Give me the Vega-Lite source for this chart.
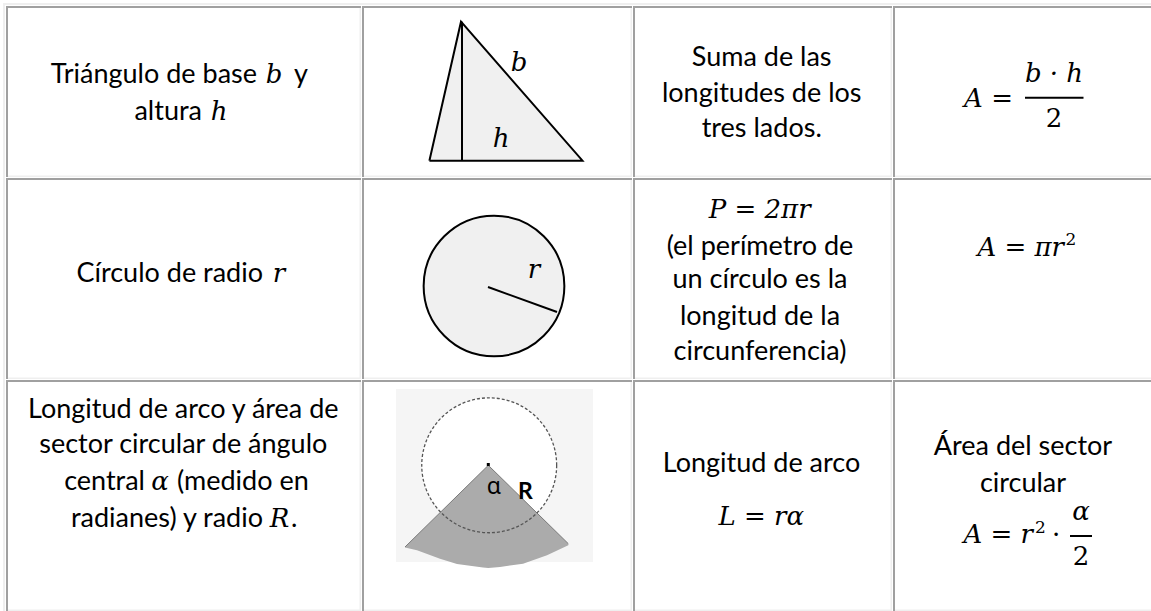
{
"$schema": "https://vega.github.io/schema/vega-lite/v6.json",
"width": 1151, "height": 611, "padding": 0, "autosize": {"type": "none"},
"background": "white",
"config": {"view": {"stroke": null}},
"datasets": {
"frame": [{"x": 3, "x2": 1165, "y": 3, "y2": 625}],
"cells": [
{"x": 6, "x2": 361, "y": 6, "y2": 177}, {"x": 362, "x2": 632, "y": 6, "y2": 177}, {"x": 633, "x2": 892, "y": 6, "y2": 177}, {"x": 893, "x2": 1165, "y": 6, "y2": 177},
{"x": 6, "x2": 361, "y": 178, "y2": 379}, {"x": 362, "x2": 632, "y": 178, "y2": 379}, {"x": 633, "x2": 892, "y": 178, "y2": 379}, {"x": 893, "x2": 1165, "y": 178, "y2": 379},
{"x": 6, "x2": 361, "y": 380, "y2": 611}, {"x": 362, "x2": 632, "y": 380, "y2": 611}, {"x": 633, "x2": 892, "y": 380, "y2": 611}, {"x": 893, "x2": 1165, "y": 380, "y2": 611}
],
"tri": [{"x": 429.4, "y": 160.7, "y2": 160.7}, {"x": 461, "y": 21.7, "y2": 160.7}, {"x": 582.5, "y": 160.7, "y2": 160.7}],
"triLine": [{"x": 429.4, "y": 160.7, "o": 1}, {"x": 461, "y": 21.7, "o": 2}, {"x": 582.5, "y": 160.7, "o": 3}, {"x": 429.4, "y": 160.7, "o": 4}],
"segs": [
{"x": 462, "y": 21.7, "x2": 462, "y2": 160.7},
{"x": 488, "y": 287, "x2": 557, "y2": 312},
{"x": 1025, "y": 97.7, "x2": 1083.5, "y2": 97.7},
{"x": 1070, "y": 536, "x2": 1092, "y2": 536}
],
"circle": [{"x": 494, "y": 286}],
"sectorBg": [{"x": 396, "x2": 593, "y": 389, "y2": 562}],
"sector": [
{"x": 405, "y": 547, "y2": 547.5}, {"x": 417, "y": 535.2, "y2": 550.3}, {"x": 440, "y": 512.7, "y2": 558.7}, {"x": 457, "y": 496, "y2": 564},
{"x": 483, "y": 470.5, "y2": 567.5}, {"x": 488.3, "y": 465.3, "y2": 568}, {"x": 500, "y": 476.8, "y2": 567}, {"x": 523, "y": 499.3, "y2": 563.7},
{"x": 547, "y": 522.8, "y2": 555.3}, {"x": 568.3, "y": 543.7, "y2": 545.3}
],
"sectorEdge": [{"x": 405, "y": 547, "o": 1}, {"x": 488.3, "y": 465.3, "o": 2}, {"x": 568.3, "y": 543.7, "o": 3}],
"dashCircle": [{"x": 489.2, "y": 465.3}],
"apex": [{"x": 488.3, "y": 464.5}],
"plainC": [
{"t": "Suma de las", "x": 761.7, "y": 66}, {"t": "longitudes de los", "x": 761.7, "y": 101.7}, {"t": "tres lados.", "x": 761.7, "y": 136.7},
{"t": "(el perímetro de", "x": 760, "y": 255}, {"t": "un círculo es la", "x": 760, "y": 288}, {"t": "longitud de la", "x": 760, "y": 325}, {"t": "circunferencia)", "x": 760, "y": 360},
{"t": "Longitud de arco", "x": 761.5, "y": 471.7},
{"t": "Área del sector", "x": 1023, "y": 455}, {"t": "circular", "x": 1023, "y": 491.7},
{"t": "Longitud de arco y área de", "x": 183.3, "y": 418}, {"t": "sector circular de ángulo", "x": 183.3, "y": 453}
],
"plainR": [
{"t": "Triángulo de base", "x": 257, "y": 83}, {"t": "altura", "x": 202, "y": 120}, {"t": "Círculo de radio", "x": 263, "y": 282},
{"t": "central", "x": 145, "y": 490}, {"t": "radianes) y radio", "x": 263, "y": 526.7}
],
"plainL": [
{"t": "y", "x": 294, "y": 83}, {"t": "(medido en", "x": 177, "y": 490}, {"t": ".", "x": 291, "y": 526.7}
],
"mathI": [
{"t": "b", "x": 274, "y": 83}, {"t": "h", "x": 219, "y": 120}, {"t": "r", "x": 279, "y": 282}, {"t": "α", "x": 160, "y": 490}, {"t": "R", "x": 279.5, "y": 526.7},
{"t": "b", "x": 519, "y": 71}, {"t": "h", "x": 501, "y": 146.7}, {"t": "r", "x": 534, "y": 278},
{"t": "P = 2πr", "x": 759.7, "y": 218}, {"t": "L = rα", "x": 761.2, "y": 525},
{"t": "A =", "x": 988.5, "y": 106.7}, {"t": "b · h", "x": 1054, "y": 81.7},
{"t": "α", "x": 1081, "y": 520}
],
"mathIR": [
{"t": "A = πr", "x": 1064, "y": 256},
{"t": "A = r", "x": 1033, "y": 542.7}
],
"mathU": [{"t": "2", "x": 1054, "y": 127.3}, {"t": "2", "x": 1081, "y": 565}, {"t": "·", "x": 1056, "y": 542.7}],
"sup": [{"t": "2", "x": 1071, "y": 245}, {"t": "2", "x": 1040.5, "y": 533}],
"alpha": [{"t": "α", "x": 494, "y": 494}],
"boldR": [{"t": "R", "x": 525.5, "y": 498.7}]
},
"layer": [
{"data": {"name": "frame"}, "mark": {"type": "rect", "fill": "#efefef"},
 "encoding": {"x": {"field": "x", "type": "quantitative", "scale": {"domain": [0, 1151], "nice": false, "zero": false}, "axis": null}, "x2": {"field": "x2"}, "y": {"field": "y", "type": "quantitative", "scale": {"domain": [0, 611], "nice": false, "zero": false, "reverse": true}, "axis": null}, "y2": {"field": "y2"}}},
{"data": {"name": "frame"}, "mark": {"type": "rect", "fill": "#ffffff", "xOffset": 2, "yOffset": 2},
 "encoding": {"x": {"field": "x", "type": "quantitative", "axis": null}, "x2": {"field": "x2"}, "y": {"field": "y", "type": "quantitative", "axis": null}, "y2": {"field": "y2"}}},
{"data": {"name": "cells"}, "mark": {"type": "rect", "fill": "#a0a0a0"},
 "encoding": {"x": {"field": "x", "type": "quantitative", "axis": null}, "x2": {"field": "x2"}, "y": {"field": "y", "type": "quantitative", "axis": null}, "y2": {"field": "y2"}}},
{"data": {"name": "cells"}, "mark": {"type": "rect", "fill": "#efefef", "xOffset": 2, "yOffset": 2},
 "encoding": {"x": {"field": "x", "type": "quantitative", "axis": null}, "x2": {"field": "x2"}, "y": {"field": "y", "type": "quantitative", "axis": null}, "y2": {"field": "y2"}}},
{"data": {"name": "cells"}, "mark": {"type": "rect", "fill": "#ffffff", "xOffset": 2, "yOffset": 2, "x2Offset": -1.5, "y2Offset": -1.5},
 "encoding": {"x": {"field": "x", "type": "quantitative", "axis": null}, "x2": {"field": "x2"}, "y": {"field": "y", "type": "quantitative", "axis": null}, "y2": {"field": "y2"}}},
{"data": {"name": "tri"}, "mark": {"type": "area", "fill": "#f0f0f0", "interpolate": "linear"},
 "encoding": {"x": {"field": "x", "type": "quantitative", "axis": null}, "y": {"field": "y", "type": "quantitative", "axis": null}, "y2": {"field": "y2"}}},
{"data": {"name": "triLine"}, "mark": {"type": "line", "color": "#000000", "strokeWidth": 2, "strokeJoin": "miter"},
 "encoding": {"x": {"field": "x", "type": "quantitative", "axis": null}, "y": {"field": "y", "type": "quantitative", "axis": null}, "order": {"field": "o", "type": "quantitative"}}},
{"data": {"name": "circle"}, "mark": {"type": "point", "shape": "circle", "size": 19800, "filled": true, "fill": "#f0f0f0", "stroke": "#000000", "strokeWidth": 2, "opacity": 1},
 "encoding": {"x": {"field": "x", "type": "quantitative", "axis": null}, "y": {"field": "y", "type": "quantitative", "axis": null}}},
{"data": {"name": "sectorBg"}, "mark": {"type": "rect", "fill": "#f5f5f5"},
 "encoding": {"x": {"field": "x", "type": "quantitative", "axis": null}, "x2": {"field": "x2"}, "y": {"field": "y", "type": "quantitative", "axis": null}, "y2": {"field": "y2"}}},
{"data": {"name": "dashCircle"}, "mark": {"type": "point", "shape": "circle", "size": 18200, "filled": true, "fill": "#ffffff", "opacity": 1, "strokeOpacity": 0},
 "encoding": {"x": {"field": "x", "type": "quantitative", "axis": null}, "y": {"field": "y", "type": "quantitative", "axis": null}}},
{"data": {"name": "sector"}, "mark": {"type": "area", "fill": "#ababab", "interpolate": "linear"},
 "encoding": {"x": {"field": "x", "type": "quantitative", "axis": null}, "y": {"field": "y", "type": "quantitative", "axis": null}, "y2": {"field": "y2"}}},
{"data": {"name": "sectorEdge"}, "mark": {"type": "line", "color": "#7a7a7a", "strokeWidth": 1},
 "encoding": {"x": {"field": "x", "type": "quantitative", "axis": null}, "y": {"field": "y", "type": "quantitative", "axis": null}, "order": {"field": "o", "type": "quantitative"}}},
{"data": {"name": "dashCircle"}, "mark": {"type": "point", "shape": "circle", "size": 18200, "filled": false, "stroke": "#555555", "strokeWidth": 1.3, "strokeDash": [3, 2], "opacity": 1},
 "encoding": {"x": {"field": "x", "type": "quantitative", "axis": null}, "y": {"field": "y", "type": "quantitative", "axis": null}}},
{"data": {"name": "apex"}, "mark": {"type": "point", "shape": "square", "size": 9, "filled": true, "color": "#000000", "opacity": 1},
 "encoding": {"x": {"field": "x", "type": "quantitative", "axis": null}, "y": {"field": "y", "type": "quantitative", "axis": null}}},
{"data": {"name": "segs"}, "mark": {"type": "rule", "color": "#000000", "strokeWidth": 2},
 "encoding": {"x": {"field": "x", "type": "quantitative", "axis": null}, "x2": {"field": "x2"}, "y": {"field": "y", "type": "quantitative", "axis": null}, "y2": {"field": "y2"}}},
{"data": {"name": "plainC"}, "mark": {"type": "text", "font": "Lato", "fontSize": 27, "align": "center", "baseline": "alphabetic", "color": "#000000"},
 "encoding": {"x": {"field": "x", "type": "quantitative", "axis": null}, "y": {"field": "y", "type": "quantitative", "axis": null}, "text": {"field": "t"}}},
{"data": {"name": "plainR"}, "mark": {"type": "text", "font": "Lato", "fontSize": 27, "align": "right", "baseline": "alphabetic", "color": "#000000"},
 "encoding": {"x": {"field": "x", "type": "quantitative", "axis": null}, "y": {"field": "y", "type": "quantitative", "axis": null}, "text": {"field": "t"}}},
{"data": {"name": "plainL"}, "mark": {"type": "text", "font": "Lato", "fontSize": 27, "align": "left", "baseline": "alphabetic", "color": "#000000"},
 "encoding": {"x": {"field": "x", "type": "quantitative", "axis": null}, "y": {"field": "y", "type": "quantitative", "axis": null}, "text": {"field": "t"}}},
{"data": {"name": "mathI"}, "mark": {"type": "text", "font": "DejaVu Serif", "fontStyle": "italic", "fontSize": 26, "align": "center", "baseline": "alphabetic", "color": "#000000"},
 "encoding": {"x": {"field": "x", "type": "quantitative", "axis": null}, "y": {"field": "y", "type": "quantitative", "axis": null}, "text": {"field": "t"}}},
{"data": {"name": "mathIR"}, "mark": {"type": "text", "font": "DejaVu Serif", "fontStyle": "italic", "fontSize": 26, "align": "right", "baseline": "alphabetic", "color": "#000000"},
 "encoding": {"x": {"field": "x", "type": "quantitative", "axis": null}, "y": {"field": "y", "type": "quantitative", "axis": null}, "text": {"field": "t"}}},
{"data": {"name": "mathU"}, "mark": {"type": "text", "font": "DejaVu Serif", "fontSize": 26, "align": "center", "baseline": "alphabetic", "color": "#000000"},
 "encoding": {"x": {"field": "x", "type": "quantitative", "axis": null}, "y": {"field": "y", "type": "quantitative", "axis": null}, "text": {"field": "t"}}},
{"data": {"name": "sup"}, "mark": {"type": "text", "font": "DejaVu Serif", "fontSize": 17, "align": "center", "baseline": "alphabetic", "color": "#000000"},
 "encoding": {"x": {"field": "x", "type": "quantitative", "axis": null}, "y": {"field": "y", "type": "quantitative", "axis": null}, "text": {"field": "t"}}},
{"data": {"name": "alpha"}, "mark": {"type": "text", "font": "Noto Sans", "fontSize": 23, "align": "center", "baseline": "alphabetic", "color": "#000000"},
 "encoding": {"x": {"field": "x", "type": "quantitative", "axis": null}, "y": {"field": "y", "type": "quantitative", "axis": null}, "text": {"field": "t"}}},
{"data": {"name": "boldR"}, "mark": {"type": "text", "font": "Lato", "fontWeight": "bold", "fontSize": 23, "align": "center", "baseline": "alphabetic", "color": "#000000"},
 "encoding": {"x": {"field": "x", "type": "quantitative", "axis": null}, "y": {"field": "y", "type": "quantitative", "axis": null}, "text": {"field": "t"}}}
]
}
